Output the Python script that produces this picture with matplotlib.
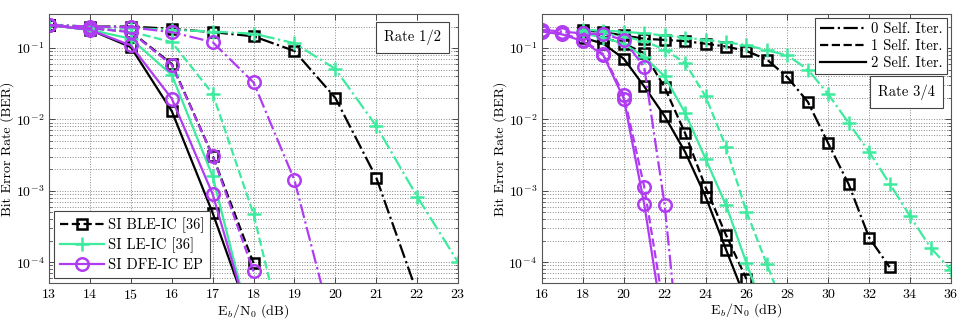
import numpy as np
import matplotlib
matplotlib.use("Agg")
import matplotlib.pyplot as plt
from matplotlib.ticker import LogLocator, NullFormatter, FixedLocator
from matplotlib.lines import Line2D

plt.rcParams['font.family'] = 'cmr10'
plt.rcParams['mathtext.fontset'] = 'cm'
plt.rcParams['axes.formatter.use_mathtext'] = True
plt.rcParams['font.size'] = 10

# ---- Rate 1/2 data (x starts at 13 dB) ----
snr_r12 = [13, 14, 15, 16, 17, 18, 19, 20, 21, 22, 23]
ble_r12 = [
    [0.21, 0.20, 0.20, 0.186, 0.167, 0.146, 0.091, 0.020, 0.00153, 3.7e-5],   # 0 self iter
    [0.21, 0.19, 0.17, 0.06, 0.0031, 9.7e-5],                                 # 1 self iter
    [0.21, 0.18, 0.103, 0.0131, 4.9e-4, 1.2e-5],                              # 2 self iter
]
le_r12 = [
    [0.21, 0.20, 0.19, 0.18, 0.17, 0.159, 0.117, 0.051, 0.0081, 8.3e-4, 1.0e-4],
    [0.21, 0.19, 0.17, 0.121, 0.023, 4.7e-4, 2e-6],
    [0.21, 0.18, 0.135, 0.042, 0.0016, 8.5e-6],
]
dfe_r12 = [
    [0.21, 0.20, 0.195, 0.167, 0.121, 0.033, 0.00141, 8.5e-6],
    [0.21, 0.19, 0.167, 0.058, 0.0031, 7.4e-5],
    [0.21, 0.18, 0.109, 0.0196, 9.0e-4, 9.5e-6],
]

# ---- Rate 3/4 data ----
snr_r34_dfe = [16, 17, 18, 19, 20, 21, 22, 23]
snr_r34 = list(range(18, 37))
ble_r34 = [
    [0.177, 0.167, 0.15, 0.135, 0.13, 0.125, 0.115, 0.105, 0.091, 0.069, 0.039, 0.0176,
     0.0046, 0.00123, 2.2e-4, 8.5e-5],
    [0.165, 0.14, 0.115, 0.085, 0.028, 0.0064, 0.00112, 2.4e-4, 5.8e-5],
    [0.14, 0.115, 0.071, 0.029, 0.0111, 0.0035, 8.3e-4, 1.5e-4, 2.8e-5],
]
le_r34 = [
    [0.18, 0.175, 0.17, 0.16, 0.15, 0.14, 0.13, 0.12, 0.11, 0.093, 0.079, 0.05, 0.0225,
     0.0089, 0.0035, 0.00126, 4.4e-4, 1.6e-4, 7.8e-5],
    [0.17, 0.16, 0.145, 0.125, 0.095, 0.062, 0.021, 0.0041, 5.1e-4, 9.3e-5, 1.7e-5],
    [0.16, 0.14, 0.115, 0.075, 0.04, 0.0123, 0.0028, 6.3e-4, 9.7e-5, 1.6e-5],
]
dfe_r34 = [
    [0.18, 0.17, 0.16, 0.156, 0.13, 0.054, 6.3e-4, 8.5e-7],
    [0.175, 0.16, 0.13, 0.082, 0.022, 0.00114, 1.9e-5],
    [0.17, 0.155, 0.125, 0.079, 0.0196, 6.5e-4, 9.5e-6],
]

algo_names = ['SI BLE-IC [36]', 'SI LE-IC [36]', 'SI DFE-IC EP']
iter_names = ['0 Self. Iter.', '1 Self. Iter.', '2 Self. Iter.']

BLACK = 'black'
GREEN = '#3DEB9E'
PURPLE = '#B03CF2'
styles = ['-.', '--', '-']
LW = 1.6


def plot_family(ax, x, series, color, marker, ms):
    for k, vals in enumerate(series):
        ax.plot(x[:len(vals)], vals, linestyle=styles[k], color=color, lw=LW,
                marker=marker, ms=ms, mfc='none', mec=color, mew=1.8)


def style_axes(ax, xlim, xticks):
    ax.set_yscale('log')
    ax.set_xlim(*xlim)
    ax.set_ylim(5.1e-5, 0.3)
    ax.xaxis.set_major_locator(FixedLocator(xticks))
    ax.yaxis.set_major_locator(LogLocator(base=10, numticks=10))
    ax.yaxis.set_minor_locator(LogLocator(base=10, subs=np.arange(2, 10), numticks=10))
    ax.yaxis.set_minor_formatter(NullFormatter())
    ax.tick_params(which='both', direction='in', top=True, right=True, labelsize=10,
                   color='#333333')
    ax.tick_params(which='major', length=4, width=0.6)
    ax.tick_params(which='minor', length=2, width=0.5)
    ax.grid(True, which='major', linestyle=':', color='#888888', lw=0.7)
    ax.grid(True, which='minor', axis='y', linestyle=':', color='#888888', lw=0.7)
    for s in ax.spines.values():
        s.set_color('#555555')
        s.set_linewidth(0.8)
    ax.set_xlabel(r'E$_b$/N$_0$ (dB)', fontsize=10, labelpad=0)
    ax.set_ylabel('Bit Error Rate (BER)', fontsize=10, labelpad=1)


fig = plt.figure(figsize=(9.69, 3.23), dpi=100)
ax1 = fig.add_axes([0.0506, 0.1238, 0.4221, 0.8329])
ax2 = fig.add_axes([0.5593, 0.1238, 0.4221, 0.8329])

# left panel
plot_family(ax1, snr_r12, ble_r12, BLACK, 's', 7)
plot_family(ax1, snr_r12, le_r12, GREEN, '+', 10)
plot_family(ax1, snr_r12, dfe_r12, PURPLE, 'o', 9)
style_axes(ax1, (13, 23), list(range(13, 24)))

handles = [
    Line2D([], [], color=BLACK, ls='--', lw=LW, marker='s', ms=7, mfc='none', mew=1.8),
    Line2D([], [], color=GREEN, ls='-', lw=LW, marker='+', ms=10, mew=1.8),
    Line2D([], [], color=PURPLE, ls='-', lw=LW, marker='o', ms=9, mfc='none', mew=1.8),
]
leg1 = ax1.legend(handles, algo_names, loc='lower left', fontsize=10.5, handlelength=3.0,
                  fancybox=False, edgecolor='#444444', framealpha=1, borderaxespad=0.35,
                  labelspacing=0.35, handletextpad=0.3, borderpad=0.4)
leg1.get_frame().set_linewidth(0.8)
ax1.text(0.888, 0.912, 'Rate 1/2', transform=ax1.transAxes, ha='center', va='center',
         fontsize=10.5,
         bbox=dict(boxstyle='square,pad=0.55', fc='white', ec='#444444', lw=0.8))

# right panel
plot_family(ax2, snr_r34, ble_r34, BLACK, 's', 7)
plot_family(ax2, snr_r34, le_r34, GREEN, '+', 10)
plot_family(ax2, snr_r34_dfe, dfe_r34, PURPLE, 'o', 9)
style_axes(ax2, (16, 36), list(range(16, 37, 2)))

handles2 = [Line2D([], [], color=BLACK, ls=styles[k], lw=LW) for k in range(3)]
leg2 = ax2.legend(handles2, iter_names, loc='upper right', fontsize=10.5, handlelength=3.2,
                  fancybox=False, edgecolor='#444444', framealpha=1, borderaxespad=0.3,
                  labelspacing=0.2, handletextpad=0.3, borderpad=0.3)
leg2.get_frame().set_linewidth(0.8)
ax2.text(0.892, 0.71, 'Rate 3/4', transform=ax2.transAxes, ha='center', va='center',
         fontsize=10.5,
         bbox=dict(boxstyle='square,pad=0.55', fc='white', ec='#444444', lw=0.8))

fig.savefig('out.png', dpi=100)
